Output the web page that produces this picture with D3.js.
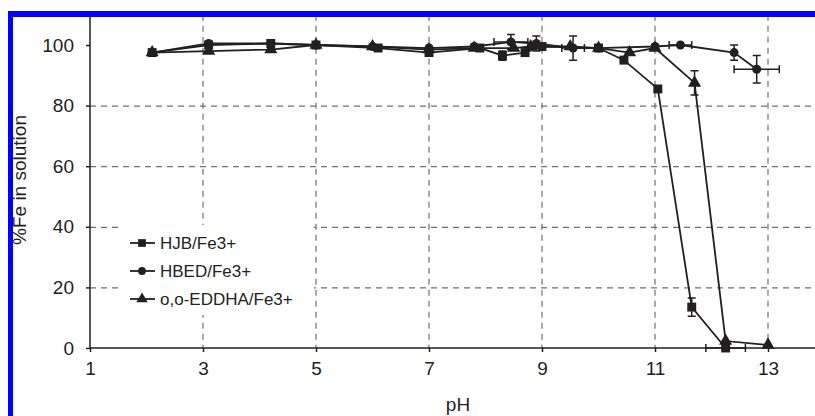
<!DOCTYPE html>
<html>
<head>
<meta charset="utf-8">
<script src="https://cdn.jsdelivr.net/npm/d3@7"></script>
<style>
  body { margin: 0; background: #fff; }
  text { font-family: "Liberation Sans", Arial, sans-serif; fill: #231f20; }
</style>
</head>
<body>
<div class="chart"></div>
<script>
var svgWidth = 815;
var svgHeight = 416;

// data: [pH, %Fe, yErr, xErr]
var hjbData = [
  [2.1, 97.5, 0, 0], [3.1, 100, 0, 0], [4.2, 100.5, 0, 0], [5.0, 100, 0, 0],
  [6.1, 99, 0, 0], [7.0, 97.5, 0, 0], [7.9, 99, 0, 0], [8.3, 96.5, 1.5, 0],
  [8.7, 97.5, 0, 0], [9.0, 99.5, 0, 0], [10.0, 99, 0, 0], [10.45, 95, 0, 0],
  [11.05, 85.5, 0, 0], [11.65, 13.5, 3, 0], [12.25, 0, 0, 0.35]
];
var hbedData = [
  [2.1, 97.5, 0, 0], [3.1, 100.5, 0, 0], [4.2, 100.5, 0, 0], [5.0, 100, 0, 0],
  [6.0, 99.5, 0, 0], [7.0, 99, 0, 0], [7.8, 99.5, 0, 0], [8.45, 101, 2.5, 0.3],
  [8.9, 100.5, 2.5, 0], [9.55, 99, 4, 0.2], [10.0, 99, 0, 0], [11.0, 99.5, 0, 0],
  [11.45, 100, 0, 0.2], [12.4, 97.5, 2.5, 0], [12.8, 92, 4.5, 0.4]
];
var eddhaData = [
  [2.1, 97.5, 0, 0], [3.1, 98, 0, 0], [4.2, 98.5, 0, 0], [5.0, 100, 0, 0],
  [6.0, 99.5, 0, 0], [7.0, 98.5, 0, 0], [7.8, 99, 0, 0], [8.5, 99, 0, 0],
  [8.8, 99.5, 0, 0], [9.5, 99.5, 0, 0], [10.0, 99, 0, 0], [10.55, 97.5, 0, 0],
  [11.0, 99, 0, 0], [11.7, 87.5, 4, 0], [12.25, 2.3, 0, 0], [13.0, 1, 0, 0]
];
var seriesNames = ["HJB/Fe3+", "HBED/Fe3+", "o,o-EDDHA/Fe3+"];
var xTicks = [1, 3, 5, 7, 9, 11, 13];
var yTicks = [0, 20, 40, 60, 80, 100];

var ink = "#231f20";

var svg = d3.select(".chart")
  .append("svg")
  .attr("width", svgWidth)
  .attr("height", svgHeight);

var xScale = d3.scaleLinear().domain([1, 14]).range([90, 824.5]);
var yScale = d3.scaleLinear().domain([0, 110]).range([348, 14.7]);

// dashed grid
var grid = svg.append("g")
  .attr("stroke", "#707070")
  .attr("stroke-width", 1.2)
  .attr("stroke-dasharray", "6,5");

grid.selectAll(".hgrid")
  .data(yTicks.filter(d => d > 0 && d < 100))
  .enter()
  .append("line")
  .attr("x1", xScale(1))
  .attr("x2", svgWidth)
  .attr("y1", d => yScale(d) + 0.5)
  .attr("y2", d => yScale(d) + 0.5);

grid.selectAll(".vgrid")
  .data(xTicks.filter(d => d > 1))
  .enter()
  .append("line")
  .attr("x1", d => xScale(d))
  .attr("x2", d => xScale(d))
  .attr("y1", yScale(110))
  .attr("y2", yScale(0));

// axes
var bottomAxis = d3.axisBottom(xScale).tickValues(xTicks).tickSize(4).tickPadding(10);
var leftAxis = d3.axisLeft(yScale).tickValues(yTicks).tickSize(4).tickPadding(12);

var xAxis = svg.append("g")
  .attr("transform", `translate(0, ${yScale(0)})`)
  .call(bottomAxis);
xAxis.select(".domain").attr("d", `M${xScale(1)},0H${svgWidth}`);

var yAxis = svg.append("g")
  .attr("transform", `translate(${xScale(1)}, 0)`)
  .call(leftAxis);
yAxis.select(".domain").attr("d", `M0,${yScale(0)}V${yScale(110)}`);

svg.selectAll(".domain, .tick line")
  .attr("stroke", ink)
  .attr("stroke-width", 1.5);
svg.selectAll(".tick text")
  .attr("font-size", "19px")
  .attr("font-family", "Liberation Sans, Arial, sans-serif")
  .attr("fill", ink);

// marker shapes
var symbols = [d3.symbolSquare, d3.symbolCircle, d3.symbolTriangle];
var symbolSizes = [80, 64, 75];

var line = d3.line()
  .x(d => xScale(d[0]))
  .y(d => yScale(d[1]));

var allSeries = [hjbData, hbedData, eddhaData];

allSeries.forEach((data, i) => {
  var g = svg.append("g");

  g.append("path")
    .datum(data)
    .attr("d", line)
    .attr("fill", "none")
    .attr("stroke", ink)
    .attr("stroke-width", 1.8);

  // vertical error bars
  var yErr = data.filter(d => d[2] > 0);
  g.selectAll(".yerr")
    .data(yErr)
    .enter()
    .append("path")
    .attr("d", d => {
      var x = xScale(d[0]), y1 = yScale(d[1] - d[2]), y2 = yScale(d[1] + d[2]);
      return `M${x},${y1}V${y2}M${x - 4},${y1}H${x + 4}M${x - 4},${y2}H${x + 4}`;
    })
    .attr("stroke", ink)
    .attr("stroke-width", 1.5)
    .attr("fill", "none");

  // horizontal error bars
  var xErr = data.filter(d => d[3] > 0);
  g.selectAll(".xerr")
    .data(xErr)
    .enter()
    .append("path")
    .attr("d", d => {
      var y = yScale(d[1]), x1 = xScale(d[0] - d[3]), x2 = xScale(d[0] + d[3]);
      return `M${x1},${y}H${x2}M${x1},${y - 4}V${y + 4}M${x2},${y - 4}V${y + 4}`;
    })
    .attr("stroke", ink)
    .attr("stroke-width", 1.5)
    .attr("fill", "none");

  g.selectAll(".marker")
    .data(data)
    .enter()
    .append("path")
    .attr("transform", d => `translate(${xScale(d[0])}, ${yScale(d[1])})`)
    .attr("d", d3.symbol().type(symbols[i]).size(symbolSizes[i]))
    .attr("fill", ink);
});

// legend
var legend = svg.append("g");
legend.append("rect")
  .attr("x", 118)
  .attr("y", 225)
  .attr("width", 196)
  .attr("height", 90)
  .attr("fill", "#fff");

seriesNames.forEach((name, i) => {
  var ly = 243 + i * 28;
  legend.append("line")
    .attr("x1", 130)
    .attr("x2", 155)
    .attr("y1", ly)
    .attr("y2", ly)
    .attr("stroke", ink)
    .attr("stroke-width", 1.8);
  legend.append("path")
    .attr("transform", `translate(142, ${ly})`)
    .attr("d", d3.symbol().type(symbols[i]).size(symbolSizes[i] * 0.75))
    .attr("fill", ink);
  legend.append("text")
    .attr("x", 160)
    .attr("y", ly + 5.5)
    .attr("font-size", "17px")
    .text(name);
});

// axis titles
svg.append("text")
  .attr("transform", "rotate(-90)")
  .attr("x", -180)
  .attr("y", 26)
  .attr("text-anchor", "middle")
  .attr("font-size", "19px")
  .text("%Fe in solution");

svg.append("text")
  .attr("x", 458)
  .attr("y", 411)
  .attr("text-anchor", "middle")
  .attr("font-size", "19px")
  .text("pH");

// blue frame
svg.append("rect")
  .attr("x", 8).attr("y", 11)
  .attr("width", svgWidth - 8).attr("height", 6)
  .attr("fill", "#0000ff");
svg.append("rect")
  .attr("x", 8).attr("y", 11)
  .attr("width", 5).attr("height", svgHeight - 11)
  .attr("fill", "#0000ff");
</script>
</body>
</html>
